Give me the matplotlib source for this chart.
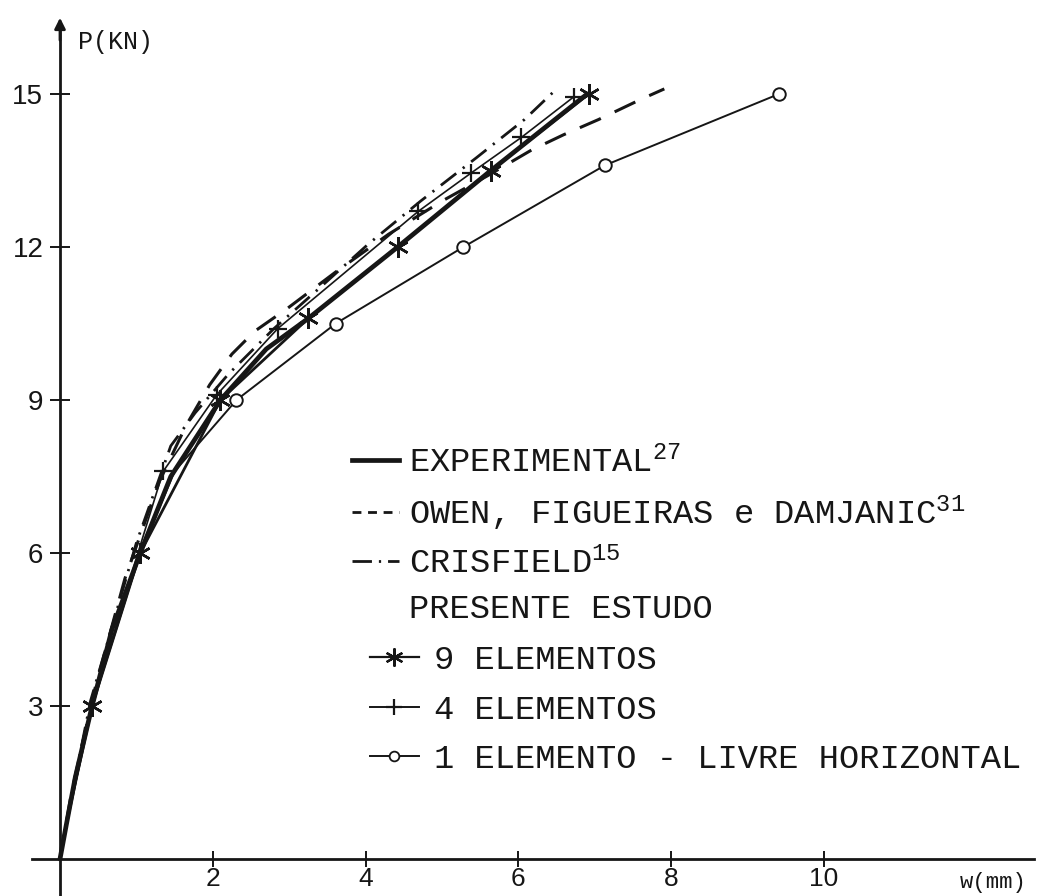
import matplotlib
matplotlib.use("Agg")
import matplotlib.pyplot as plt
from matplotlib.lines import Line2D

plt.rcParams['mathtext.fontset'] = 'custom'
plt.rcParams['mathtext.rm'] = 'Liberation Mono'
plt.rcParams['mathtext.it'] = 'Liberation Mono'
plt.rcParams['mathtext.bf'] = 'Liberation Mono:bold'

# ---------------- data (w in mm, P in kN) ----------------
exp_w = [0, 0.08, 0.2, 0.42, 0.68, 1.05, 1.45, 2.1, 2.7, 3.25, 4.42, 5.64, 6.9]
exp_p = [0, 0.65, 1.6, 3.0, 4.5, 6.0, 7.5, 9.0, 10.0, 10.6, 12.0, 13.5, 15.0]

owen_w = [0, 0.15, 0.45, 0.85, 1.3, 1.65, 1.96, 2.25, 2.55, 2.98, 3.6, 4.3, 5.0,
          5.6, 6.17, 6.59, 7.05, 7.61, 7.91]
owen_p = [0, 1.3, 3.3, 5.5, 7.4, 8.5, 9.3, 9.9, 10.35, 10.8, 11.5, 12.25, 12.9,
          13.4, 13.9, 14.2, 14.5, 14.9, 15.1]

cris_w = [0, 0.08, 0.4, 1.0, 1.45, 1.77, 2.2, 2.8, 3.4, 4.03, 4.72, 5.45, 6.08, 6.5]
cris_p = [0, 0.7, 3.1, 6.2, 8.1, 8.75, 9.5, 10.4, 11.2, 12.05, 12.9, 13.75, 14.5, 15.1]

el9_w = [0, 0.08, 0.42, 1.05, 2.1, 3.25, 4.42, 5.64, 6.92]
el9_p = [0, 0.65, 3.0, 6.0, 9.0, 10.6, 12.0, 13.5, 15.0]
el9_marks = [2, 3, 4, 5, 6, 7, 8]

el4_w = [0, 0.08, 0.42, 1.02, 1.35, 2.05, 2.85, 4.69, 5.38, 6.04, 6.73]
el4_p = [0, 0.65, 3.0, 6.0, 7.6, 9.1, 10.4, 12.7, 13.45, 14.15, 14.95]
el4_marks = [4, 5, 6, 7, 8, 9, 10]

el1_w = [0, 0.08, 0.42, 1.05, 1.5, 2.31, 3.61, 5.28, 7.13, 9.41]
el1_p = [0, 0.65, 3.0, 6.0, 7.6, 9.0, 10.5, 12.0, 13.6, 15.0]
el1_marks = [5, 6, 7, 8, 9]

x_ticks = [2, 4, 6, 8, 10]
y_ticks = [3, 6, 9, 12, 15]

labels = ['EXPERIMENTAL$^{27}$',
          'OWEN, FIGUEIRAS e DAMJANIC$^{31}$',
          'CRISFIELD$^{15}$',
          'PRESENTE ESTUDO',
          '9 ELEMENTOS',
          '4 ELEMENTOS',
          '1 ELEMENTO - LIVRE HORIZONTAL']

# ---------------- figure ----------------
W, H = 1040, 896
fig = plt.figure(figsize=(W / 100, H / 100), dpi=100)
ax = fig.add_axes([0, 0, 1, 1])
X0, XS = 60.0, 76.4
Y0, YS = 859.0, 51.0
ax.set_xlim(-X0 / XS, (W - X0) / XS)
ax.set_ylim((Y0 - H) / YS, Y0 / YS)

ink = '#161616'

ax.plot(exp_w, exp_p, color=ink, lw=3.4, solid_capstyle='round', zorder=3)
lo, = ax.plot(owen_w, owen_p, color=ink, lw=2.2, zorder=3)
lo.set_dashes([7.5, 5.0])
lc, = ax.plot(cris_w, cris_p, color=ink, lw=2.0, zorder=3)
lc.set_dashes([7, 3, 0.8, 3])
ax.plot(el9_w, el9_p, color=ink, lw=2.0, marker=(6, 2, 0), ms=15, mew=1.8,
        markevery=el9_marks, zorder=4)
ax.plot(el4_w, el4_p, color=ink, lw=1.2, marker='+', ms=13, mew=1.6,
        markevery=el4_marks, zorder=4)
ax.plot(el1_w, el1_p, color=ink, lw=1.4, marker='o', ms=9, mew=1.4,
        mfc='white', markevery=el1_marks, zorder=4)

# axes styling
for s in ['top', 'right']:
    ax.spines[s].set_visible(False)
ax.spines['left'].set_position(('data', 0))
ax.spines['bottom'].set_position(('data', 0))
ax.spines['left'].set_bounds(-1, 16.4)
ax.spines['bottom'].set_bounds(-0.37, 12.75)
for s in ['left', 'bottom']:
    ax.spines[s].set_linewidth(2.0)
    ax.spines[s].set_color(ink)
ax.annotate('', xy=(0, 16.55), xytext=(0, 16.0),
            arrowprops=dict(arrowstyle='-|>', color=ink, lw=2, mutation_scale=16))
ax.annotate('', xy=(12.85, 0), xytext=(12.4, 0),
            arrowprops=dict(arrowstyle='-|>', color=ink, lw=2, mutation_scale=16))

ax.set_xticks(x_ticks)
ax.set_yticks(y_ticks)
ax.set_xticklabels([str(v) for v in x_ticks])
ax.set_yticklabels([str(v) for v in y_ticks])
ax.tick_params(direction='inout', length=14, width=1.4, color=ink, labelcolor=ink)
ax.tick_params(axis='x', length=12, pad=0)
ax.tick_params(axis='y', pad=5)
for t in ax.get_xticklabels():
    t.set_fontfamily(['Liberation Sans', 'DejaVu Sans'])
    t.set_fontsize(19)
for t in ax.get_yticklabels():
    t.set_fontfamily(['Liberation Sans', 'DejaVu Sans'])
    t.set_fontsize(20)

ax.text(78 / W, 1 - 42 / H, 'P(KN)', transform=ax.transAxes, fontsize=18,
        family=['Liberation Mono', 'DejaVu Sans Mono'], color=ink, va='center', ha='left')
ax.text(960 / W, 1 - 882 / H, 'w(mm)', transform=ax.transAxes, fontsize=16,
        family=['Liberation Mono', 'DejaVu Sans Mono'], color=ink, va='center', ha='left')

# ---------------- legends ----------------
fs = 24.3
h_exp = Line2D([], [], color=ink, lw=3.4)
h_owen = Line2D([], [], color=ink, lw=2.0)
h_owen.set_dashes([3.2, 2.4])
h_cris = Line2D([], [], color=ink, lw=2.0)
h_cris.set_dashes([7, 2.5, 0.8, 2.5])
h_blank = Line2D([], [], color='none')
h9 = Line2D([], [], color=ink, lw=1.6, marker=(6, 2, 0), ms=13, mew=1.6)
h4 = Line2D([], [], color=ink, lw=1.4, marker='+', ms=12, mew=1.6)
h1 = Line2D([], [], color=ink, lw=1.4, marker='o', ms=7, mew=1.3, mfc='white')

leg1 = ax.legend([h_exp, h_owen, h_cris, h_blank], labels[:4],
                 loc='upper left', bbox_to_anchor=(352 / W, 1 - 446 / H),
                 bbox_transform=fig.transFigure, frameon=False,
                 prop={'family': 'Liberation Mono', 'size': fs},
                 borderpad=0, borderaxespad=0, handlelength=1.4,
                 handletextpad=0.29, labelspacing=0.42, labelcolor=ink)
ax.add_artist(leg1)
leg2 = ax.legend([h9, h4, h1], labels[4:],
                 loc='upper left', bbox_to_anchor=(370 / W, 1 - 645 / H),
                 bbox_transform=fig.transFigure, frameon=False,
                 prop={'family': 'Liberation Mono', 'size': fs},
                 borderpad=0, borderaxespad=0, handlelength=1.45,
                 handletextpad=0.45, labelspacing=0.55, labelcolor=ink)

fig.savefig('out.png', dpi=100)
